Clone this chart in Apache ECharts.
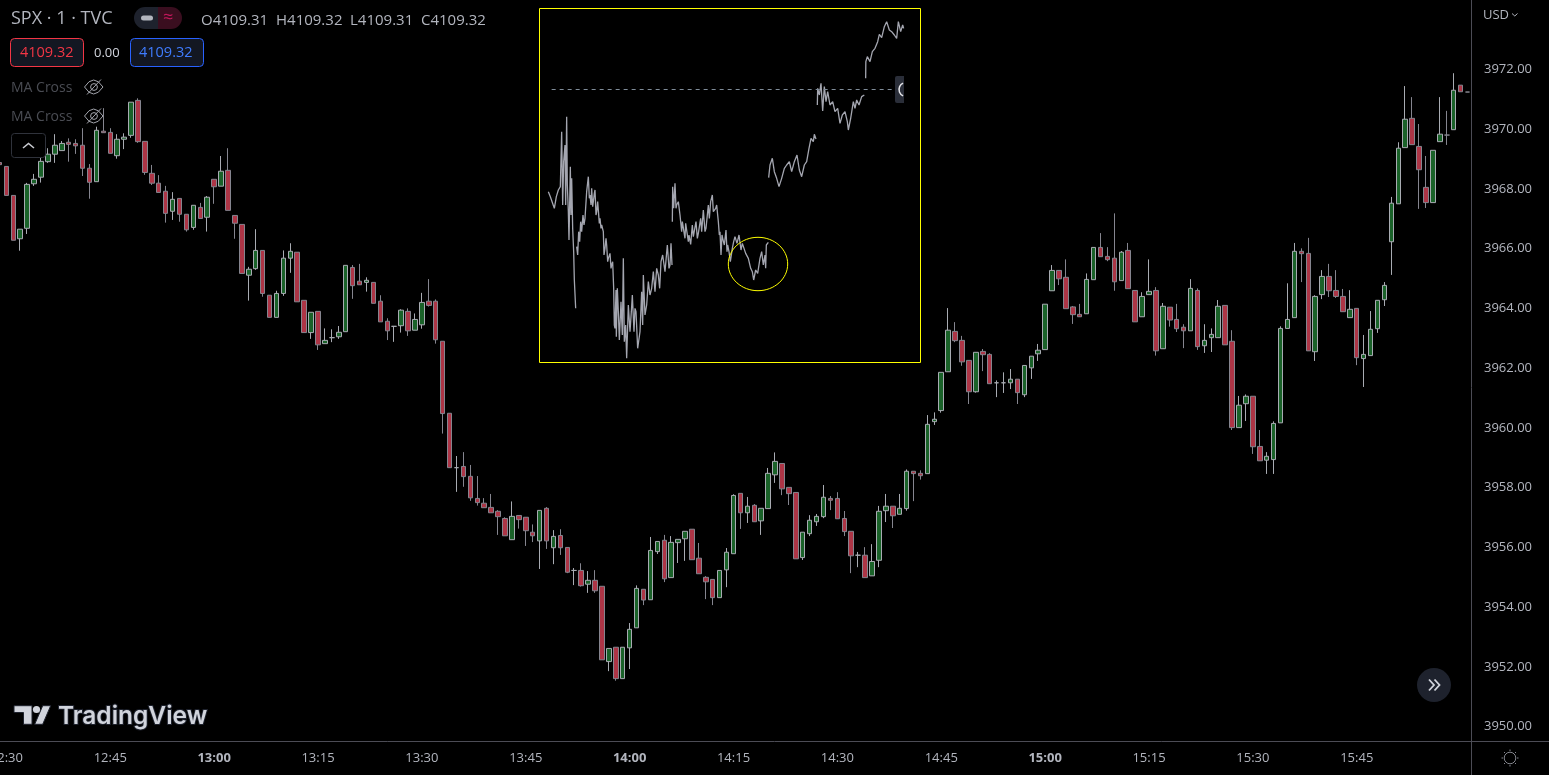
<!DOCTYPE html>
<html><head><meta charset="utf-8">
<script src="https://cdn.jsdelivr.net/npm/echarts@6/dist/echarts.min.js"></script>
<style>html,body{margin:0;padding:0;background:#fff;overflow:hidden}#c{position:absolute;left:0;top:0;width:1549px;height:775px}</style>
</head><body><div id="c"></div>
<script>
const open=[3968.88,3968.75,3967.78,3966.33,3966.68,3968.17,3968.39,3968.91,3969.16,3969.28,3969.56,3969.52,3969.46,3968.69,3968.24,3969.93,3969.89,3969.11,3969.66,3969.79,3970.96,3969.59,3968.52,3968.19,3967.92,3967.25,3967.68,3967.15,3966.71,3967.38,3967.05,3968.32,3968.09,3968.62,3967.11,3966.81,3965.11,3965.33,3965.94,3964.44,3963.70,3964.50,3965.68,3965.88,3964.27,3963.19,3963.90,3962.82,3963.02,3963.05,3963.22,3965.37,3964.91,3964.87,3964.87,3964.24,3963.57,3963.40,3963.42,3963.90,3963.27,3963.45,3964.24,3964.24,3962.90,3960.49,3958.67,3958.71,3958.38,3957.64,3957.48,3957.34,3957.21,3956.97,3956.26,3957.07,3957.01,3956.51,3956.22,3957.31,3955.99,3956.40,3956.00,3955.23,3955.23,3954.77,3954.90,3954.70,3952.18,3952.66,3951.61,3952.64,3953.31,3954.60,3954.25,3955.86,3956.24,3954.99,3956.16,3956.29,3956.61,3955.64,3955.00,3954.93,3954.32,3955.25,3955.79,3957.81,3957.16,3957.41,3956.89,3957.30,3958.43,3958.81,3958.01,3957.84,3955.66,3956.46,3956.86,3957.03,3957.64,3957.64,3956.97,3956.54,3955.74,3955.74,3955.05,3955.57,3957.23,3957.38,3957.11,3957.30,3958.55,3958.48,3958.47,3960.21,3960.58,3961.88,3963.23,3962.93,3962.26,3961.21,3962.56,3962.46,3961.51,3961.51,3961.51,3961.63,3961.11,3962.01,3962.48,3962.62,3964.59,3965.27,3965.04,3964.05,3963.80,3963.82,3964.96,3966.04,3965.74,3965.68,3964.93,3965.94,3964.60,3963.72,3964.46,3964.60,3962.65,3964.04,3963.63,3963.37,3963.25,3964.60,3962.75,3963.02,3963.02,3964.10,3962.90,3960.01,3960.81,3961.06,3959.38,3958.92,3958.94,3960.17,3963.33,3963.69,3965.91,3965.84,3962.55,3964.46,3965.07,3964.60,3964.40,3963.69,3964.00,3962.32,3962.42,3963.32,3964.29,3966.23,3967.50,3969.38,3970.36,3969.42,3968.05,3967.54,3969.58,3969.80,3969.98,3971.47,3971.24];
const close=[3968.81,3967.78,3966.28,3966.65,3968.15,3968.32,3968.92,3969.16,3969.46,3969.52,3969.49,3969.44,3968.69,3968.22,3969.96,3969.88,3969.19,3969.66,3969.73,3970.90,3969.58,3968.55,3968.19,3967.88,3967.18,3967.65,3967.15,3966.63,3967.45,3967.01,3967.72,3968.07,3968.59,3967.28,3966.85,3965.17,3965.31,3965.94,3964.50,3963.70,3964.50,3965.68,3965.91,3964.22,3963.19,3963.87,3962.78,3962.93,3963.02,3963.20,3965.44,3964.76,3964.79,3964.94,3964.17,3963.55,3963.25,3963.40,3963.94,3963.25,3963.63,3964.20,3964.10,3962.95,3960.48,3958.67,3958.67,3958.37,3957.66,3957.50,3957.33,3957.16,3957.03,3956.39,3957.04,3956.93,3956.56,3956.39,3957.24,3956.22,3956.37,3955.99,3955.17,3955.23,3954.72,3954.90,3954.55,3952.24,3952.62,3951.61,3952.66,3953.26,3954.63,3954.24,3955.90,3956.20,3954.95,3956.17,3956.27,3956.54,3955.59,3955.12,3954.85,3954.32,3955.23,3955.84,3957.74,3957.16,3957.38,3956.86,3957.31,3958.48,3958.88,3957.96,3957.80,3955.62,3956.51,3956.91,3957.04,3957.68,3957.58,3956.96,3956.53,3955.72,3955.74,3954.99,3955.53,3957.21,3957.38,3957.06,3957.31,3958.55,3958.47,3958.40,3960.12,3960.29,3961.86,3963.27,3962.92,3962.21,3961.21,3962.53,3962.45,3961.48,3961.51,3961.51,3961.63,3961.18,3962.09,3962.40,3962.60,3964.14,3965.27,3964.99,3963.99,3963.79,3963.72,3964.97,3966.04,3965.73,3965.63,3964.89,3965.88,3964.66,3963.55,3964.40,3964.57,3962.58,3964.07,3963.61,3963.32,3963.25,3964.67,3962.72,3962.93,3963.13,3964.07,3962.78,3960.01,3960.76,3961.06,3959.37,3958.90,3959.05,3960.15,3963.33,3963.63,3965.91,3965.83,3962.58,3964.40,3965.07,3964.59,3964.40,3963.89,3963.97,3962.35,3962.46,3963.30,3964.27,3964.77,3967.52,3969.36,3970.33,3969.48,3968.64,3967.54,3969.29,3969.83,3969.80,3971.30,3971.25,3971.24];
const low=[3968.80,3967.78,3966.28,3965.93,3966.49,3968.10,3968.21,3968.87,3968.87,3969.28,3968.91,3969.17,3968.43,3967.67,3968.24,3969.88,3969.19,3969.01,3969.33,3969.71,3969.54,3968.47,3968.13,3967.88,3966.87,3966.96,3966.90,3966.57,3966.63,3967.01,3966.57,3967.50,3968.09,3967.28,3966.33,3965.17,3964.26,3965.29,3964.39,3963.70,3963.70,3964.42,3965.19,3964.22,3963.19,3962.98,3962.61,3962.82,3962.87,3962.98,3963.22,3964.32,3964.79,3964.56,3964.17,3963.55,3962.94,3962.88,3963.19,3963.08,3963.27,3963.32,3964.06,3962.82,3959.81,3958.67,3957.86,3958.03,3957.56,3957.40,3957.33,3957.16,3956.42,3956.39,3956.26,3956.63,3956.05,3956.18,3955.28,3955.95,3955.44,3955.75,3955.14,3954.74,3954.69,3954.48,3954.48,3952.24,3951.86,3951.54,3951.61,3951.93,3953.31,3954.07,3954.25,3955.78,3954.84,3954.99,3955.48,3955.55,3955.59,3955.12,3954.27,3954.07,3954.32,3954.67,3955.79,3956.62,3956.82,3956.86,3956.42,3957.30,3958.16,3957.75,3957.42,3955.62,3955.58,3956.38,3956.72,3956.98,3957.25,3956.96,3956.38,3955.14,3955.34,3954.99,3955.05,3955.34,3956.85,3956.65,3957.11,3957.23,3957.55,3958.27,3958.47,3960.10,3960.51,3961.88,3962.87,3962.08,3960.80,3961.18,3961.90,3961.48,3961.03,3961.17,3961.30,3960.80,3961.03,3961.64,3962.24,3962.62,3964.59,3964.78,3963.99,3963.48,3963.72,3963.82,3964.96,3965.73,3965.58,3964.59,3964.93,3964.66,3963.55,3963.72,3964.46,3962.42,3962.65,3963.39,3963.21,3962.67,3963.25,3962.61,3962.51,3962.54,3963.02,3962.78,3959.93,3960.01,3960.23,3959.13,3958.90,3958.46,3958.46,3960.17,3963.33,3963.69,3964.88,3962.58,3962.24,3964.31,3964.38,3964.35,3963.89,3963.69,3962.10,3961.37,3962.42,3963.18,3964.08,3965.12,3967.50,3969.38,3969.48,3967.33,3967.36,3967.54,3969.58,3969.47,3969.98,3971.25,3971.24];
const high=[3969.67,3968.75,3967.78,3966.65,3968.20,3968.50,3969.20,3969.36,3969.83,3969.60,3969.69,3969.66,3970.03,3968.83,3970.08,3970.70,3970.03,3969.83,3969.86,3970.90,3971.03,3969.59,3968.80,3968.46,3968.10,3967.89,3967.68,3967.15,3967.45,3967.53,3967.76,3968.32,3969.10,3969.36,3967.11,3966.81,3965.39,3966.65,3965.94,3964.44,3964.59,3965.94,3966.18,3965.88,3964.27,3963.87,3963.90,3963.33,3963.30,3963.41,3965.44,3965.45,3965.49,3965.04,3964.87,3964.44,3963.67,3963.40,3963.97,3964.00,3963.83,3964.52,3964.98,3964.30,3962.90,3960.49,3959.06,3959.19,3958.76,3958.39,3957.65,3957.79,3957.25,3957.01,3957.54,3957.07,3957.01,3956.77,3957.24,3957.35,3956.58,3956.61,3956.00,3955.31,3955.47,3955.21,3955.24,3954.70,3952.62,3952.66,3952.66,3953.47,3954.73,3954.60,3956.35,3956.20,3956.42,3956.38,3956.27,3956.54,3956.61,3956.15,3955.04,3954.93,3955.23,3955.98,3957.78,3957.81,3957.69,3957.45,3957.31,3958.66,3959.18,3958.81,3958.01,3957.84,3956.51,3957.08,3957.12,3958.09,3957.72,3957.85,3957.22,3956.54,3955.85,3956.01,3956.11,3957.39,3957.79,3957.38,3957.79,3958.61,3958.55,3958.58,3960.43,3960.52,3961.86,3964.01,3963.54,3963.08,3962.26,3962.53,3962.64,3962.50,3961.59,3961.86,3961.97,3961.63,3962.09,3962.40,3962.81,3964.14,3965.45,3965.27,3965.64,3964.08,3964.15,3965.17,3966.04,3966.52,3966.05,3967.18,3965.92,3966.19,3964.60,3964.54,3965.64,3964.71,3964.18,3964.04,3964.15,3963.47,3964.98,3964.67,3963.47,3963.33,3964.28,3964.10,3963.27,3961.07,3961.12,3961.06,3959.93,3959.19,3960.22,3963.40,3964.84,3966.19,3966.01,3966.36,3964.44,3965.28,3965.49,3965.28,3964.65,3964.61,3964.00,3963.11,3963.91,3964.27,3964.88,3967.73,3969.56,3971.44,3971.07,3970.17,3969.10,3969.29,3971.07,3970.61,3971.87,3971.47,3971.24];
const priceTicks=[3950,3952,3954,3956,3958,3960,3962,3964,3966,3968,3970,3972];
const insetTime=[40,46,52,58,64,70,76,80,83,86,90,92,95,97,100,102,106,108,110,113,116,118,122,123,125,128,131,134,137,140,144,147,150,155,160,163,165,168,170,173,175,178,180,183,185,188,190,193,195,198,200,205,207,210,213,215,218,220,225,228,230,233,236,238,240,243,244,247,250,253,258,262,265,268,272,275,280,285,289,292,297,300,303,308,315,320,323,325,330,335,340,345,350,355,360,365,370,374,378,383,390,397,402,405,408,410,411,411.5,412,413,416,420,423,425,430,435,440,442,445,450,452,455,460,462,467,472,475,478,483,487,490,497,500,505,510,513,520,523,527,532,535,538,542,545,550,553,555,558,561,563,568,573,576,578,582,586,592,596,600,606,612,618,622,625,632,640,647,652,656,662,668,675,680,685,690,692,694,700,700.5,701,705,712,718,725,732,740,748,755,763,770,778,786,793,800,808,815,822,828,835,838,843,845,847,848,853,858,863,868,873,878,885,893,900,908,915,922,930,937,940,947,955,960,965,972,980,988,990,992,992.5,997,1005,1012,1020,1028,1033,1040,1048,1055,1063,1070,1078,1085,1090,1097,1103,1106];
const insetLevel=[526,511,506,476,511,531,541,706,486,616,666,486,751,546,466,381,601,456,566,416,346,261,176,null,361,336,406,376,436,406,456,426,446,526,571,506,516,486,536,481,496,521,531,456,466,496,496,431,446,416,426,406,336,356,386,366,316,326,341,296,306,316,236,126,116,231,91,236,166,81,196,96,326,76,126,26,186,106,166,216,106,176,166,56,106,226,126,276,156,186,256,216,236,286,226,296,276,236,316,336,286,366,296,306,371,376,306,null,436,541,476,551,476,486,496,456,406,436,436,386,431,431,376,396,368,426,391,396,436,386,401,446,406,471,406,416,486,446,496,516,466,466,476,486,436,396,406,336,396,386,366,411,346,366,346,316,356,376,391,371,396,351,371,366,341,326,296,286,261,291,281,326,346,306,336,296,366,374,null,568,606,626,586,566,541,566,596,606,616,586,616,636,591,571,606,616,656,686,676,698,684,null,786,836,816,851,768,841,796,826,786,796,766,776,731,756,766,736,711,746,796,776,801,786,811,816,null,866,916,931,916,946,956,976,998,988,1021,1036,1011,1006,996,986,1036,1006,1026,1016];

const categories=open.map((_,i)=>{const m=12*60+29+i;return Math.floor(m/60)+":"+String(m%60).padStart(2,"0");});
const candleData=open.map((o,i)=>[o,close[i],low[i],high[i]]);
const inset=insetTime.map((t,i)=>[t,insetLevel[i]]);
const F='"Open Sans",Roboto,sans-serif';
const txt=(text,x,y,fill,size,extra)=>({type:'text',z:50,style:Object.assign({text,x,y,fill,font:size+'px '+F,textVerticalAlign:'middle'},extra||{})});
const EC='#a4a6ae';
const eye=(dy)=>({type:'group',z:50,y:dy,children:[
 {type:'bezierCurve',shape:{x1:84.5,y1:87,cpx1:93.5,cpy1:73,x2:103,y2:87},style:{fill:'none',stroke:EC,lineWidth:1}},
 {type:'bezierCurve',shape:{x1:84.5,y1:87,cpx1:93.5,cpy1:101,x2:103,y2:87},style:{fill:'none',stroke:EC,lineWidth:1}},
 {type:'circle',shape:{cx:94,cy:87,r:3.4},style:{fill:'none',stroke:EC,lineWidth:1}},
 {type:'line',shape:{x1:87,y1:94.5,x2:101,y2:79.5},style:{stroke:EC,lineWidth:1}}]});
const sunRay=(x1,y1,x2,y2)=>({type:'line',z:51,shape:{x1,y1,x2,y2},style:{stroke:'#85878f',lineWidth:1}});
const graphic=[
 {type:'line',z:40,shape:{x1:1471.5,y1:0,x2:1471.5,y2:775},style:{stroke:'#4c4c55',lineWidth:1}},
 {type:'line',z:40,shape:{x1:0,y1:741.5,x2:1549,y2:741.5},style:{stroke:'#4c4c55',lineWidth:1}},
 txt('SPX · 1 · TVC',11,19,'#b2b5be',18),
 {type:'rect',z:49,shape:{x:134,y:7,width:24,height:22,r:[11,0,0,11]},style:{fill:'#1e222d'}},
 {type:'rect',z:49,shape:{x:158,y:7,width:24,height:22,r:[0,11,11,0]},style:{fill:'#3a0e1f'}},
 {type:'rect',z:50,shape:{x:141,y:15.5,width:12,height:5,r:2.5},style:{fill:'#b2b5be'}},
 txt('≈',163,18,'#c2185b',18),
 txt('O4109.31',201,20.5,'#b2b5be',15),
 txt('H4109.32',276,20.5,'#b2b5be',15),
 txt('L4109.31',350,20.5,'#b2b5be',15),
 txt('C4109.32',421,20.5,'#b2b5be',15),
 {type:'rect',z:49,shape:{x:10.5,y:38.5,width:73,height:28,r:4},style:{fill:'#131722',stroke:'#f23645',lineWidth:1}},
 txt('4109.32',20,53,'#f23645',14.5),
 txt('0.00',94,53.5,'#d1d4dc',13),
 {type:'rect',z:49,shape:{x:130.5,y:38.5,width:73,height:28,r:4},style:{fill:'#131722',stroke:'#2962ff',lineWidth:1}},
 txt('4109.32',139,53,'#3f7cff',14.5),
 txt('MA Cross',11,88,'#4a4c53',14),
 txt('MA Cross',11,117,'#4a4c53',14),
 eye(0),eye(29),
 {type:'rect',z:49,shape:{x:11.5,y:133.5,width:34,height:24,r:3},style:{fill:'#000',stroke:'#2f323b',lineWidth:1}},
 {type:'polyline',z:50,shape:{points:[[23,148],[28.5,143.5],[34,148]]},style:{fill:'none',stroke:'#c8cad0',lineWidth:1.6}},
 {type:'rect',z:45,shape:{x:539.5,y:8.5,width:381,height:354},style:{fill:'none',stroke:'#ffff00',lineWidth:1}},
 {type:'ellipse',z:45,shape:{cx:758,cy:264,rx:29.7,ry:26.7},style:{fill:'none',stroke:'#ffff00',lineWidth:1}},
 {type:'rect',z:45,shape:{x:895,y:76,width:9,height:27,r:[2,0,0,2]},style:{fill:'#2a2e39'}},
 {type:'arc',z:46,shape:{cx:906,cy:89.5,r:7,startAngle:2.0,endAngle:4.28,clockwise:true},style:{fill:'none',stroke:'#e4e4e8',lineWidth:1.5}},
 {type:'polygon',z:50,shape:{points:[[14,705.7],[32,705.7],[32,724.3],[23.5,724.3],[23.5,712.5],[14,712.5]]},style:{fill:'#d1d4dc',stroke:'#1e222d',lineWidth:1}},
 {type:'polygon',z:50,shape:{points:[[42.7,705.7],[50.7,705.7],[42.7,724.3],[34.7,724.3]]},style:{fill:'#d1d4dc',stroke:'#1e222d',lineWidth:1}},
 {type:'circle',z:50,shape:{cx:36.5,cy:709.5,r:3.6},style:{fill:'#d1d4dc'}},
 {type:'text',z:50,style:{text:'TradingView',x:58,y:716.5,fill:'#d1d4dc',font:'600 24.5px Inter,'+F,textVerticalAlign:'middle',stroke:'#1e222d',lineWidth:2}},
 {type:'circle',z:50,shape:{cx:1434,cy:685,r:17},style:{fill:'#1e222d'}},
 {type:'polyline',z:51,shape:{points:[[1429,679.5],[1434,685],[1429,690.5]]},style:{fill:'none',stroke:'#d1d4dc',lineWidth:1.8}},
 {type:'polyline',z:51,shape:{points:[[1434.5,679.5],[1439.5,685],[1434.5,690.5]]},style:{fill:'none',stroke:'#d1d4dc',lineWidth:1.8}},
 txt('USD',1483,15,'#b2b5be',13),
 {type:'polyline',z:51,shape:{points:[[1512,13.5],[1514.8,16],[1517.5,13.5]]},style:{fill:'none',stroke:'#b2b5be',lineWidth:1}},
 {type:'circle',z:51,shape:{cx:1510,cy:758,r:5.8},style:{fill:'none',stroke:'#85878f',lineWidth:1}},
 sunRay(1510,749.5,1510,751),sunRay(1510,765,1510,766.5),sunRay(1501.5,758,1503,758),sunRay(1517,758,1518.5,758),
 sunRay(1504,752,1505,753),sunRay(1515,763,1516,764),sunRay(1504,764,1505,763),sunRay(1515,753,1516,752)
];
const chart=echarts.init(document.getElementById('c'),null,{renderer:'canvas'});
chart.setOption({
 animation:false,backgroundColor:'#000',
 grid:[{left:-4,top:-50.2,width:1475,height:836.7,outerBoundsMode:'none',containLabel:false},{left:535,top:5,width:390,height:362,outerBoundsMode:'none'}],
 xAxis:[{type:'category',gridIndex:0,data:categories,position:'bottom',offset:-45.5,boundaryGap:true,
   axisLine:{show:false},axisTick:{show:false},splitLine:{show:false},
   axisLabel:{show:true,hideOverlap:false,margin:11,color:'#b2b5be',fontSize:13,fontFamily:F,
     interval:(i,v)=>{const p=v.split(':');return +p[1]%15===0&&(+p[0]*60+ +p[1])<=15*60+45;},
     formatter:v=>v.endsWith(':00')?'{b|'+v+'}':v,
     rich:{b:{fontWeight:'bold',color:'#b2b5be',fontSize:13,fontFamily:F}}}},
  {type:'value',gridIndex:1,min:0,max:1170,show:false}],
 yAxis:[{type:'value',gridIndex:0,position:'right',min:3948,max:3976,interval:2,
   axisLine:{show:false},axisTick:{show:false},splitLine:{show:false},
   axisLabel:{margin:13,color:'#b2b5be',fontSize:13,fontFamily:F,padding:[2,0,0,0],
     formatter:v=>priceTicks.includes(v)?v.toFixed(2):''}},
  {type:'value',gridIndex:1,min:0,max:1086,show:false}],
 series:[
  {type:'candlestick',name:'SPX',xAxisIndex:0,yAxisIndex:0,data:candleData,barWidth:5,
   itemStyle:{color:'#1a6229',color0:'#ad3546',borderColor:'#a8abb2',borderColor0:'#85858f',borderWidth:1}},
  {type:'line',name:'inset',xAxisIndex:1,yAxisIndex:1,data:inset,showSymbol:false,connectNulls:false,silent:true,
   lineStyle:{color:'#a4a6b0',width:1.3},
   markLine:{silent:true,symbol:'none',label:{show:false},lineStyle:{color:'#7f8c99',type:[4,4],width:1},
     data:[[{coord:[50,833]},{coord:[1080,833]}]]}}
 ],
 graphic:{elements:graphic}
});
</script></body></html>
